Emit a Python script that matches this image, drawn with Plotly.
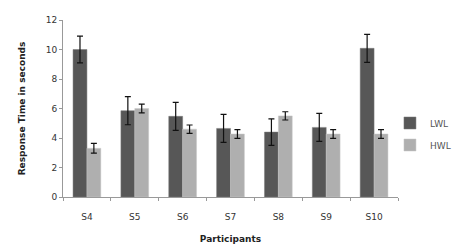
import plotly.graph_objects as go

participants = ["S4", "S5", "S6", "S7", "S8", "S9", "S10"]
lwl = [10.0, 5.85, 5.47, 4.65, 4.4, 4.72, 10.08]
lwl_err = [0.9, 0.95, 0.95, 0.95, 0.9, 0.95, 0.95]
hwl = [3.3, 6.0, 4.6, 4.27, 5.5, 4.27, 4.27]
hwl_err = [0.33, 0.3, 0.28, 0.3, 0.28, 0.3, 0.3]

fig = go.Figure()
fig.add_trace(go.Bar(
    name="LWL", x=participants, y=lwl, marker_color="#575757", legendgroup="a",
    marker_line=dict(color="#7a7a7a", width=0.5),
    error_y=dict(type="data", array=lwl_err, color="#111111", thickness=1.2, width=3),
))
fig.add_trace(go.Bar(
    name="HWL", x=participants, y=hwl, marker_color="#afafaf", legendgroup="b",
    marker_line=dict(color="#c8c8c8", width=0.5),
    error_y=dict(type="data", array=hwl_err, color="#111111", thickness=1.2, width=3),
))

font = "DejaVu Sans"
# page body has an 8px default margin, so the figure is 8px smaller and offset
fig.update_layout(
    width=452, height=243,
    margin=dict(l=55, r=62, t=12, b=54, autoexpand=False),
    paper_bgcolor="white", plot_bgcolor="white",
    barmode="group", bargap=0.42, bargroupgap=0.0,
    font=dict(family=font, size=9, color="#333333"),
    showlegend=True,
    legend=dict(x=0.976, y=0.356, xanchor="left", yanchor="middle",
                font=dict(size=9, color="#555555"), itemwidth=30,
                traceorder="grouped", tracegroupgap=3),
    xaxis=dict(
        showline=True, linecolor="#999999", linewidth=1, automargin=False,
        ticks="outside", tickson="boundaries", ticklen=3, tickcolor="#999999",
        ticklabelstandoff=11,
        tickfont=dict(size=9, color="#333333"),
        title=dict(text="<b>Participants</b>", font=dict(size=9, color="#222222"), standoff=14),
    ),
    yaxis=dict(
        range=[0, 12], dtick=2, showgrid=False, zeroline=False, automargin=False,
        showline=True, linecolor="#999999", linewidth=1,
        ticks="outside", ticklen=3, tickcolor="#999999",
        tickfont=dict(size=9, color="#333333"),
        title=dict(text="<b>Response Time in seconds</b>", font=dict(size=9, color="#222222"), standoff=18),
    ),
)

fig.write_html("out.html")
